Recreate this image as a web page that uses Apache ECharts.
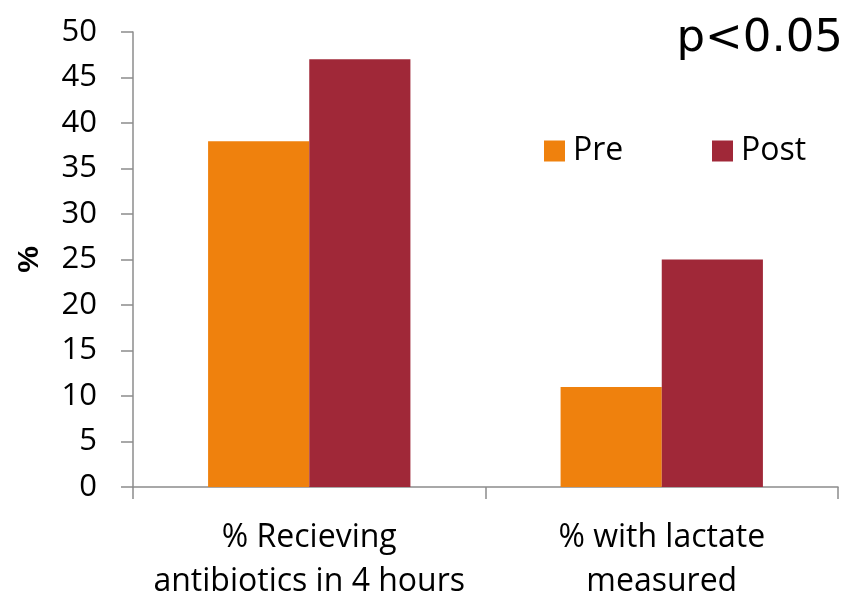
<!DOCTYPE html>
<html>
<head>
<meta charset="utf-8">
<script src="https://cdn.jsdelivr.net/npm/echarts@6/dist/echarts.min.js"></script>
<style>html,body{margin:0;padding:0;background:#fff}#c{width:854px;height:598px}</style>
</head>
<body>
<div id="c"></div>
<script>
var categories = ['% Recieving\nantibiotics in 4 hours', '% with lactate\nmeasured'];
var preValues = [38, 11];
var postValues = [47, 25];
var seriesNames = ['Pre', 'Post'];
var annotation = 'p<0.05';

var chart = echarts.init(document.getElementById('c'), null, {renderer: 'canvas'});
var font = '"Open Sans", Lato, sans-serif';
chart.setOption({
  animation: false,
  backgroundColor: '#ffffff',
  grid: {left: 133, right: 16, top: 32, bottom: 111, containLabel: false, outerBoundsMode: 'none'},
  title: {
    text: annotation, right: 6, top: 12,
    textStyle: {fontFamily: 'DejaVu Sans', fontSize: 45, fontWeight: 'normal', color: '#000'}
  },
  legend: [
    {data: [seriesNames[0]], left: 539, top: 130, itemWidth: 21, itemHeight: 21, icon: 'rect',
     textStyle: {fontFamily: font, fontSize: 32, color: '#000', padding: [0,0,0,3]}},
    {data: [seriesNames[1]], left: 707, top: 130, itemWidth: 21, itemHeight: 21, icon: 'rect',
     textStyle: {fontFamily: font, fontSize: 32, color: '#000', padding: [0,0,0,3]}}
  ],
  xAxis: {
    type: 'category', data: categories,
    axisLine: {lineStyle: {color: '#8c8c8c', width: 1.5}},
    axisTick: {show: true, length: 12, lineStyle: {color: '#8c8c8c', width: 1.5}},
    axisLabel: {interval: 0, fontFamily: font, fontSize: 32, color: '#000', lineHeight: 44, margin: 29}
  },
  yAxis: {
    type: 'value', min: 0, max: 50, interval: 5,
    name: '%', nameLocation: 'middle', nameGap: 88, nameRotate: 90,
    nameTextStyle: {fontFamily: 'Liberation Sans', fontSize: 30, fontWeight: 'bold', color: '#000'},
    axisLine: {show: true, lineStyle: {color: '#8c8c8c', width: 1.5}},
    axisTick: {show: true, inside: false, length: 12, lineStyle: {color: '#8c8c8c', width: 1.5}},
    splitLine: {show: false},
    axisLabel: {fontFamily: font, fontSize: 31, color: '#000', margin: 36}
  },
  series: [
    {name: seriesNames[0], type: 'bar', data: preValues, itemStyle: {color: '#EF810D'},
     barGap: '0%', barCategoryGap: '42.6%'},
    {name: seriesNames[1], type: 'bar', data: postValues, itemStyle: {color: '#A02838'},
     barGap: '0%', barCategoryGap: '42.6%'}
  ]
});
</script>
</body>
</html>
